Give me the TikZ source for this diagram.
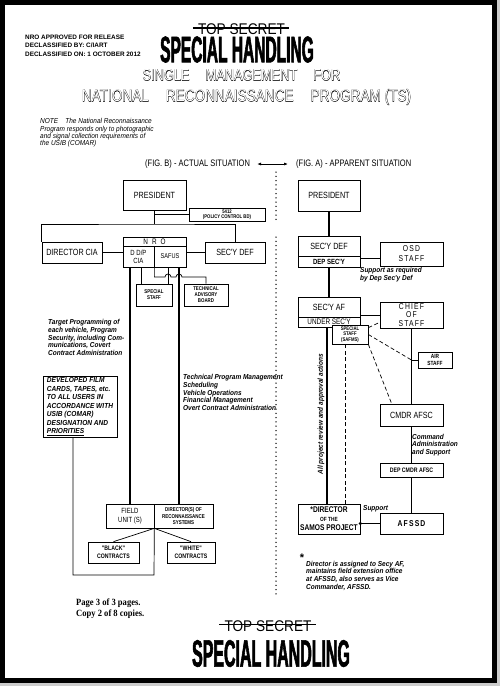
\documentclass[tikz,border=0pt]{standalone}
\usepackage{fontspec}
\usetikzlibrary{arrows.meta}
\setmainfont{Liberation Sans}
\newfontfamily\boxfont[FakeStretch=0.8]{Liberation Sans}
\newfontfamily\wideboxfont[FakeStretch=0.8,LetterSpace=14]{Liberation Sans}
\newfontfamily\notefont[FakeStretch=0.9]{Liberation Sans}
\newfontfamily\stampfont[FakeStretch=0.88]{Liberation Sans}
\newfontfamily\bannerfont[FakeStretch=0.42,FakeBold=1.5]{Liberation Sans}
\newfontfamily\titlefont[FakeStretch=0.8]{Liberation Sans}
\newfontfamily\titleedge[FakeStretch=0.8,FakeBold=2.2]{Liberation Sans}
\newfontfamily\pagefont[FakeStretch=0.9]{Liberation Serif}
\newcommand{\hollowtitle}[1]{\rlap{\titleedge #1}{\titlefont\color{white}#1}}
\tikzset{
  sz/.style 2 args={minimum width=#1pt,minimum height=#2pt},
  orgbox/.style={draw,line width=0.7pt,fill=white,inner sep=0pt,align=center,font=\boxfont\fontsize{9}{10}\selectfont},
  smallbox/.style={orgbox,font=\boxfont\bfseries\fontsize{5.5}{6}\selectfont},
  notetext/.style={inner sep=0pt,align=left,anchor=west,font=\notefont\bfseries\itshape\fontsize{7.2}{7.7}\selectfont},
  link/.style={line width=0.7pt},
  heavylink/.style={line width=1.3pt},
  trunk/.style={line width=2.2pt},
  dashlink/.style={line width=0.7pt,dash pattern=on 4pt off 2.5pt},
}

\begin{document}
\begin{tikzpicture}[x=1pt,y=-1pt]
\useasboundingbox (0,0) rectangle (500,686);
\fill[gray!40] (0,683) rectangle (500,686);
\fill[gray!40] (497,0) rectangle (500,686);
\draw[line width=5pt] (2.5,2.5) rectangle (494.5,680);

\node[anchor=west,align=left,inner sep=0pt,font=\bfseries\fontsize{6.4}{8.5}\selectfont] (release) at (25,45.5) {NRO APPROVED FOR RELEASE\\DECLASSIFIED BY: C/IART\\DECLASSIFIED ON: 1 OCTOBER 2012};
\node[inner sep=0pt,font=\stampfont\fontsize{15.5}{16}\selectfont] (tsTop) at (241.5,29.5) {TOP SECRET};
\draw[line width=1.3pt] ([xshift=-5pt,yshift=1.5pt]tsTop.west) -- ([xshift=4pt,yshift=1.5pt]tsTop.east);
\node[inner sep=0pt,font=\bannerfont\bfseries\fontsize{37}{37}\selectfont] (shTop) at (237,49.5) {SPECIAL HANDLING};
\node[inner sep=0pt,font=\fontsize{16}{16}\selectfont] (title1) at (241.5,75) {\hollowtitle{SINGLE\quad MANAGEMENT\quad FOR}};
\node[inner sep=0pt,font=\fontsize{17}{17}\selectfont] (title2) at (246.5,97) {\hollowtitle{NATIONAL\quad RECONNAISSANCE\quad PROGRAM (TS)}};
\node[notetext,font=\notefont\itshape\fontsize{7.2}{7.4}\selectfont] (note) at (40,133) {NOTE\quad The National Reconnaissance\\Program responds only to photographic\\and signal collection requirements of\\the USIB (COMAR)};

\node[anchor=west,inner sep=0pt,font=\boxfont\fontsize{9.4}{10}\selectfont] (figB) at (145,164) {(FIG. B) - ACTUAL SITUATION};
\node[anchor=west,inner sep=0pt,font=\boxfont\fontsize{9.4}{10}\selectfont] (figA) at (296,164) {(FIG. A) - APPARENT SITUATION};
\draw[link,{Latex[length=4pt]}-{Latex[length=4pt]}] ([xshift=7pt]figB.east) -- ([xshift=-8pt]figA.west);
\draw[line width=1.5pt,line cap=round,dash pattern=on 0pt off 4.3pt] (276,172) -- (276,221);
\draw[line width=1.5pt,line cap=round,dash pattern=on 0pt off 4.3pt] (276,237) -- (276,596);

\node[orgbox,sz={63}{30}] (presL) at (154.5,195) {PRESIDENT};
\node[smallbox,sz={76}{13},font=\boxfont\bfseries\fontsize{5.3}{5.6}\selectfont] (pcbd) at (227,214.5) {5412\\(POLICY CONTROL BD)};
\node[orgbox,sz={60}{21}] (dcia) at (72,252.5) {DIRECTOR CIA};
\node[orgbox,sz={63}{9},font=\boxfont\fontsize{8}{8}\selectfont] (nro) at (154.5,241.5) {N\hspace{4pt}R\hspace{4pt}O};
\node[orgbox,sz={31}{21},font=\boxfont\fontsize{7.5}{8}\selectfont] (ddp) at (138.5,256.5) {D D/P\\CIA};
\node[orgbox,sz={32}{21},font=\boxfont\fontsize{7}{8}\selectfont] (safus) at (170,256.5) {SAFUS};
\node[orgbox,sz={60}{21}] (sdefL) at (235,252.5) {SEC'Y DEF};
\node[smallbox,sz={36}{22}] (sstaffL) at (154,295) {SPECIAL\\STAFF};
\node[smallbox,sz={44}{22}] (tab) at (206,295) {TECHNICAL\\ADVISORY\\BOARD};
\node[orgbox,sz={74}{61},align=left,font=\notefont\bfseries\itshape\fontsize{7.3}{8.5}\selectfont] (film) at (80,406.5) {DEVELOPED FILM\\CARDS, TAPES, etc.\\TO ALL USERS IN\\ACCORDANCE WITH\\USIB (COMAR)\\DESIGNATION AND\\\underline{PRIORITIES}};
\node[orgbox,sz={48}{24},font=\boxfont\fontsize{7.5}{9}\selectfont] (field) at (130,516) {FIELD\\UNIT (S)};
\node[smallbox,sz={59}{24},font=\boxfont\bfseries\fontsize{5.6}{6.4}\selectfont] (drs) at (183.5,516) {DIRECTOR(S) OF\\RECONNAISSANCE\\SYSTEMS};
\node[smallbox,sz={51}{21},font=\boxfont\bfseries\fontsize{6.5}{7.5}\selectfont] (black) at (113.5,552.5) {"BLACK"\\CONTRACTS};
\node[smallbox,sz={48}{21},font=\boxfont\bfseries\fontsize{6.5}{7.5}\selectfont] (white) at (191,552.5) {"WHITE"\\CONTRACTS};

\node[notetext] (target) at (48,337.5) {Target Programming of\\each vehicle, Program\\Security, including Com-\\munications, Covert\\Contract Administration};
\node[notetext] (techprog) at (183,392.5) {Technical Program Management\\Scheduling\\Vehicle Operations\\Financial Management\\Overt Contract Administration};

\coordinate (busL) at (154.5,224);
\coordinate (pcL) at (154.5,214.5);
\coordinate (ssA) at (141,284);
\coordinate (ssB) at (168,284);
\coordinate (drsA) at (179,504);
\coordinate (hop1) at (165,277);
\coordinate (hop2) at (176,277);
\coordinate (filmA) at (73,437);
\coordinate (loopR) at (154,575);
\draw[link] (presL.south) -- (busL);
\draw[link] (dcia.north west) |- (busL) -| (sdefL.north);
\draw[link] (pcL) -- (pcbd.west);
\draw[link] (dcia.east) -- (dcia.east -| ddp.west);
\draw[link] (sdefL.west) -- (sdefL.west -| safus.east);
\draw[heavylink] (field.north) -- (field.north |- ddp.south);
\draw[link] (ssA) -- (ssA |- ddp.south);
\draw[link] (ssB) -- (ssB |- safus.south);
\draw[heavylink] (drsA) -- (drsA |- safus.south);
\draw[link] (ddp.south east) |- (hop1) arc[start angle=180,end angle=0,radius=3pt] -- (hop2) arc[start angle=180,end angle=0,radius=3pt] -| (tab.north);
\draw[link] (filmA) |- (loopR) -- (field.south east);
\draw[link] (field.south east) -- (black.north);
\draw[link] (field.south east) -- (white.north);

\node[orgbox,sz={62}{31}] (presR) at (329,195.5) {PRESIDENT};
\node[orgbox,sz={62}{20}] (sdefR) at (329,246) {SEC'Y DEF};
\node[orgbox,sz={62}{11},font=\boxfont\bfseries\fontsize{7.5}{8}\selectfont] (depsec) at (329,261.5) {DEP SEC'Y};
\node[orgbox,sz={63}{24},font=\wideboxfont\fontsize{8.5}{10}\selectfont] (osd) at (411.5,254) {OSD\\STAFF};
\node[orgbox,sz={62}{20}] (safR) at (329,307) {SEC'Y AF};
\node[orgbox,sz={62}{10},font=\boxfont\fontsize{8}{8}\selectfont] (usec) at (329,322) {UNDER SEC'Y};
\node[orgbox,sz={63}{26},font=\wideboxfont\fontsize{8.5}{8.3}\selectfont] (cos) at (411.5,315) {CHIEF\\OF\\STAFF};
\node[smallbox,sz={36}{19},font=\boxfont\bfseries\fontsize{5.3}{5.6}\selectfont] (safms) at (350,334.5) {SPECIAL\\STAFF\\(SAFMS)};
\node[smallbox,sz={34}{16},font=\boxfont\bfseries\fontsize{6}{6.5}\selectfont] (airst) at (435,360) {AIR\\STAFF};
\node[orgbox,sz={63}{22}] (cmdr) at (411.5,415) {CMDR AFSC};
\node[orgbox,sz={63}{14},font=\boxfont\bfseries\fontsize{6.5}{7}\selectfont] (depcmdr) at (411.5,470) {DEP CMDR AFSC};
\node[orgbox,sz={63}{21},font=\wideboxfont\bfseries\fontsize{8.5}{9}\selectfont] (afssd) at (411.5,523.5) {AFSSD};
\node[orgbox,sz={62}{30},font=\boxfont\bfseries\fontsize{8.3}{9}\selectfont] (samos) at (329,519) {*DIRECTOR\\{\fontsize{6}{7}\selectfont OF THE}\\SAMOS PROJECT};

\node[notetext] (supreq) at (360,274.5) {Support as required\\by Dep Sec'y Def};
\node[notetext] (cmdsup) at (412,445) {Command\\Administration\\and Support};
\node[notetext,anchor=base west] (suplab) at (363,510) {Support};
\node[notetext,anchor=center,rotate=90] (review) at (321,414) {All project review and approval actions};
\node[inner sep=0pt,font=\bfseries\fontsize{11}{11}\selectfont] (star) at (302,558) {*};
\node[notetext] (footnote) at (306,575.5) {Director is assigned to Secy AF,\\maintains field extension office\\at AFSSD, also serves as Vice\\Commander, AFSSD.};

\coordinate (osdA) at (380,258);
\coordinate (cosA) at (380,315);
\coordinate (airJ) at (cos.south |- airst.west);
\coordinate (revA) at (327,504);
\coordinate (ssR) at (345,504);
\draw[trunk] (presR.south) -- (sdefR.north);
\draw[trunk] (depsec.south) -- (safR.north);
\draw[trunk] (revA) -- (revA |- usec.south);
\draw[link] (osdA -| depsec.east) -- (osdA);
\draw[link] (cosA -| safR.east) -- (cosA);
\draw[link] (cos.south) -- (cmdr.north);
\draw[link] (airJ) -- (airst.west);
\draw[dashlink] (safms.east) -- (airJ);
\draw[dashlink] ([yshift=-3pt]safms.north east) -- ([yshift=6pt]cos.south west);
\draw[dashlink] (safms.south east) -- ([xshift=12pt]cmdr.north west);
\draw[dashlink] (ssR) -- (ssR |- safms.south);
\draw[link] (cmdr.south) -- (depcmdr.north);
\draw[link] (depcmdr.south) -- (afssd.north);
\draw[heavylink] (afssd.west) -- (afssd.west -| samos.east);
\fill (afssd.west -| samos.east) circle[radius=1.8pt];

\node[anchor=west,align=left,inner sep=0pt,font=\pagefont\bfseries\fontsize{9.5}{11}\selectfont] (pages) at (76,608.5) {Page 3 of 3 pages.\\Copy 2 of 8 copies.};
\node[inner sep=0pt,font=\stampfont\fontsize{15.5}{16}\selectfont] (tsBot) at (268,626) {TOP SECRET};
\draw[line width=1.3pt] ([xshift=-5pt,yshift=1.5pt]tsBot.west) -- ([xshift=4pt,yshift=1.5pt]tsBot.east);
\node[inner sep=0pt,font=\bannerfont\bfseries\fontsize{38}{38}\selectfont] (shBot) at (271,653.5) {SPECIAL HANDLING};
\end{tikzpicture}
\end{document}
